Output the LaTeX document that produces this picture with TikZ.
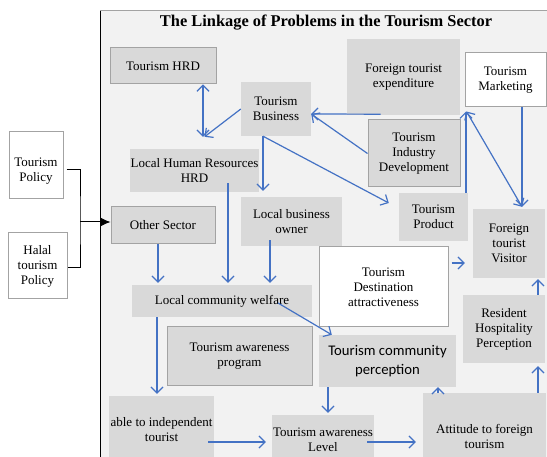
\documentclass[tikz,border=0pt]{standalone}
\usepackage{fontspec}
\setmainfont{Liberation Serif}
\newfontfamily\calibri{Carlito}
\usetikzlibrary{arrows.meta}

\definecolor{bggray}{HTML}{F2F2F2}
\definecolor{boxgray}{HTML}{D9D9D9}
\definecolor{edgegray}{HTML}{A3A3A3}
\definecolor{linkblue}{HTML}{4472C4}

\tikzset{
  box/.style={fill=boxgray, inner sep=0pt, align=center,
    font=\fontsize{13}{15}\selectfont},
  framed/.style={box, draw=edgegray, line width=1pt},
  whitebox/.style={framed, fill=white},
  link/.style={draw=linkblue, line width=1.2pt, ->},
  >={Straight Barb[length=6pt,width=12pt]},
}

\begin{document}
\begin{tikzpicture}[x=1pt, y=-1pt]
    \path[use as bounding box, clip] (0,0) rectangle (547,457);

    % frame of the sector diagram
    \fill[bggray] (100,11) rectangle (560,470);
    \draw[edgegray, line width=1pt] (100,11) -- (560,11);
    \draw[black, line width=1pt] (100,11) -- (100,470);

    \node[font=\bfseries\fontsize{16.4}{18}\selectfont] (title) at (326,23)
        {The Linkage of Problems in the Tourism Sector};

    % boxes
    \node[framed, minimum width=106pt, minimum height=36pt] (thrd) at (163,66) {Tourism HRD};
    \node[box, minimum width=70pt, minimum height=54pt] (tbiz) at (276,109) {Tourism\\Business};
    \node[box, minimum width=113pt, minimum height=76pt] (fte) at (403.5,77) {Foreign tourist\\expenditure};
    \node[whitebox, minimum width=81pt, minimum height=54pt] (tmkt) at (505.5,80) {Tourism\\Marketing};
    \node[framed, minimum width=92pt, minimum height=67pt] (tid) at (414,153.5) {Tourism\\Industry\\Development};
    \node[box, minimum width=129pt, minimum height=43pt] (lhrd) at (194.5,170.5) {Local Human Resources\\HRD};
    \node[box, minimum width=101pt, minimum height=49pt] (lbo) at (291.5,221.5) {Local business\\owner};
    \node[box, minimum width=69pt, minimum height=48pt] (tprod) at (433.5,217) {Tourism\\Product};
    \node[box, minimum width=72pt, minimum height=69pt] (ftv) at (509,243.5) {Foreign\\tourist\\Visitor};
    \node[framed, minimum width=104pt, minimum height=37pt] (oth) at (163,225.5) {Other Sector};
    \node[whitebox, minimum width=129pt, minimum height=80pt] (tda) at (383.5,287) {Tourism\\Destination\\attractiveness};
    \node[box, minimum width=180pt, minimum height=32pt] (lcw) at (222,301) {Local community welfare};
    \node[box, minimum width=82pt, minimum height=68pt] (rhp) at (504,329) {Resident\\Hospitality\\Perception};
    \node[framed, minimum width=145pt, minimum height=59pt] (tap) at (239.5,356.5) {Tourism awareness\\program};
    \node[box, minimum width=137pt, minimum height=52pt, font=\calibri\fontsize{14.7}{19}\selectfont]
        (tcp) at (387.5,361) {Tourism community\\perception};
    \node[box, minimum width=105pt, minimum height=68pt] (ait) at (161.5,430) {able to independent\\tourist};
    \node[box, minimum width=102pt, minimum height=50pt] (tal) at (323,440) {Tourism awareness\\Level};
    \node[box, minimum width=123pt, minimum height=86pt] (aft) at (484.5,436) {Attitude to foreign\\tourism};

    % policies outside the frame
    \node[whitebox, minimum width=54pt, minimum height=67pt,
        label={[yshift=-6pt, align=center, font=\fontsize{13}{15}\selectfont]center:Tourism\\Policy}]
        (tpol) at (36,165.5) {};
    \node[whitebox, minimum width=59pt, minimum height=66pt] (hpol) at (37.5,266) {Halal\\tourism\\Policy};
    \coordinate (join) at (80,222);

    \draw[black, line width=1pt] ([xshift=3pt,yshift=-4.5pt]tpol.east) -| (join)
        |- ([yshift=-2pt]hpol.east);
    \draw[black, line width=1pt, -{Latex[length=10pt,width=9pt]}] (join) -- (join -| oth.west);

    % links
    \draw[link, <->] ([xshift=40pt]thrd.south) -- ([xshift=40pt]thrd.south |- lhrd.north)
        [shorten >=12pt];
    \draw[link] (tbiz.west) -- ([xshift=10pt,yshift=12pt]lhrd.north);
    \draw[link] ([xshift=-23pt,yshift=1pt]fte.south) -- ([yshift=-5pt]tbiz.east);
    \draw[link] (tid.west) -- ([yshift=-5pt]tbiz.east);
    \draw[link] ([xshift=-13pt]tbiz.south) -- ([xshift=-10pt,yshift=14pt]tprod.west);
    \draw[link, shorten >=6pt] ([xshift=-13pt]tbiz.south) -- ([xshift=-13pt]tbiz.south |- lbo.north);
    \draw[link, shorten >=4pt] ([xshift=32.5pt]tprod.north) -- ([xshift=32.5pt]tprod.north |- tmkt.south);
    \draw[link, <->] ([xshift=2pt,yshift=-4pt]tmkt.south west) -- ([xshift=13pt,yshift=2pt]ftv.north);
    \draw[link, shorten >=2pt] ([xshift=16.5pt]tmkt.south) -- ([xshift=16.5pt]tmkt.south |- ftv.north);
    \draw[link, shorten <=3pt, shorten >=8pt] ([yshift=24pt]tda.east) -- ([yshift=24pt]tda.east -| ftv.west);
    \draw[link, shorten >=1pt] ([xshift=34pt]rhp.north) -- ([xshift=34pt]rhp.north |- ftv.south);
    \draw[link, shorten >=3pt] ([xshift=53.5pt]aft.north) -- ([xshift=53.5pt]aft.north |- rhp.south);
    \draw[link] ([xshift=-46.5pt]aft.north) -- ([xshift=-46.5pt]aft.north |- tcp.south);
    \draw[link] ([xshift=-7pt,yshift=-2pt]tal.east) -- ([xshift=-7pt,yshift=-2pt]tal.east -| aft.west);
    \draw[link, shorten >=2pt] ([xshift=-59.5pt]tcp.south) -- ([xshift=-59.5pt]tcp.south |- tal.north);
    \draw[link] ([xshift=56pt,yshift=-2pt]lcw.center) -- ([xshift=13pt]tcp.north west);
    \draw[link, shorten >=2pt] ([xshift=-5pt]oth.south) -- ([xshift=-5pt]oth.south |- lcw.north);
    \draw[link, shorten >=2pt] ([xshift=33.5pt,yshift=9pt]lhrd.south) -- ([xshift=33.5pt]lhrd.south |- lcw.north);
    \draw[link, shorten >=2pt] ([xshift=-21.5pt,yshift=6pt]lbo.south) -- ([xshift=-21.5pt]lbo.south |- lcw.north);
    \draw[link, shorten >=2pt] ([xshift=-65pt]lcw.south) -- ([xshift=-65pt]lcw.south |- ait.north);
    \draw[link] ([xshift=-6pt,yshift=-12pt]ait.east) -- ([xshift=-6pt,yshift=-12pt]ait.east -| tal.west);
\end{tikzpicture}
\end{document}
